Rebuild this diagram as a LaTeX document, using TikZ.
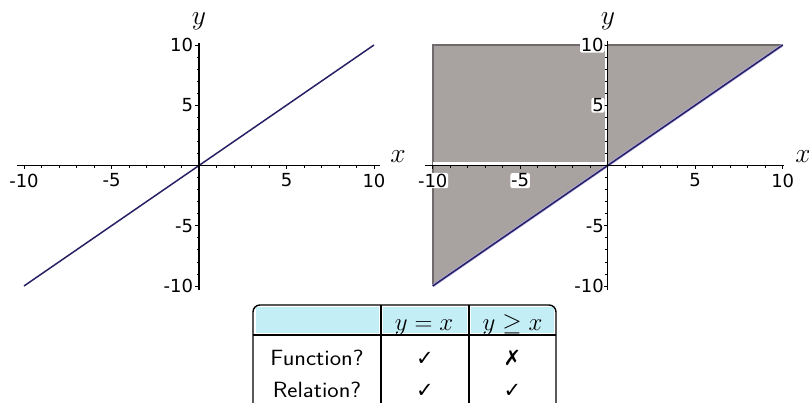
\documentclass[tikz,border=0pt]{standalone}
\usepackage{fontspec}
\usepackage{graphicx}
\newfontfamily\dejavu{DejaVu Sans}
\definecolor{greyfill}{RGB}{168,163,161}
\definecolor{greyedge}{RGB}{112,106,108}
\definecolor{navy}{RGB}{38,32,100}
\definecolor{lavender}{RGB}{185,178,232}
\definecolor{hdrcyan}{RGB}{196,238,246}
\newcommand{\bigmath}[1]{\scalebox{1.33}{$#1$}}
\newcommand{\hdrmath}[1]{\scalebox{1.2}{$#1$}}
\begin{document}
\begin{tikzpicture}[x=1pt,y=-1pt,
  ticklab/.style={font=\dejavu\fontsize{18}{18}\selectfont, inner sep=0.8pt},
  halolab/.style={ticklab, fill=white, rounded corners=2pt},
  axlab/.style={font=\fontsize{20}{20}\selectfont, inner sep=0pt},
  axisline/.style={line width=1.3pt, black},
  tickline/.style={line width=0.7pt, black},
  curve/.style={navy, line width=1.5pt},
  tabtext/.style={font=\sffamily\fontsize{21}{21}\selectfont, inner sep=0pt},
  tabmath/.style={font=\fontsize{20}{20}\selectfont, inner sep=0pt},
  checkmk/.style={font=\dejavu\bfseries\fontsize{21}{21}\selectfont, inner sep=0pt},
  tabline/.style={line width=1.4pt, black}]
\useasboundingbox (0,0) rectangle (809,403);
\clip (0,0) rectangle (809,403);

% ---------- left plot ----------
\begin{scope}[shift={(199,165.5)}, x=17.5pt, y=12.05pt]
  \draw[curve] (-10,-10) -- (10,10);
  \draw[axisline] (-10.4,0) -- (10.35,0);
  \draw[axisline] (0,-10.3) -- (0,10.2);
  \foreach \i in {-10,...,10} {
    \draw[tickline] (\i,0) -- ++(0pt,-2.5pt);
    \draw[tickline] (0,\i) -- ++(-2.5pt,0pt);
  }
  \foreach \i in {-10,-5,5,10} {
    \draw[tickline] (\i,0) -- ++(0pt,-4pt);
    \draw[tickline] (0,\i) -- ++(-4pt,0pt);
  }
  \node[ticklab] (lxa) at (-10,-1.25) {-10};
  \node[ticklab] (lxb) at (-5,-1.25) {-5};
  \node[ticklab] (lxc) at (5,-1.25) {5};
  \node[ticklab] (lxd) at (10,-1.25) {10};
  \node[ticklab, anchor=east] (lya) at ([xshift=-5pt]0,10) {10};
  \node[ticklab, anchor=east] (lyb) at ([xshift=-5pt]0,5) {5};
  \node[ticklab, anchor=east] (lyc) at ([xshift=-5pt]0,-5) {-5};
  \node[ticklab, anchor=east] (lyd) at ([xshift=-5pt]0,-10) {-10};
\end{scope}
\node[axlab] (lx) at (398,157) {\bigmath{x}};
\node[axlab] (ly) at (199,21) {\bigmath{y}};

% ---------- right plot ----------
\begin{scope}[shift={(607.7,165.5)}, x=17.5pt, y=12.05pt]
  \fill[greyfill] (-10,10) -- (10,10) -- (-10,-10) -- cycle;
  \draw[greyedge, line width=1.8pt] (10,10) -- (-10,10) -- (-10,-10);
  \fill[white] ([xshift=-3.2pt]0,0) rectangle ([xshift=-0.3pt]0,10.1);
  \fill[white] ([yshift=0.3pt]-10,0) rectangle ([yshift=3.2pt]0,0);
  \draw[lavender, line width=2.8pt] (-10,-10) -- (10,10);
  \draw[curve] (-10,-10) -- (10,10);
  \draw[axisline] (-10.45,0) -- (10.05,0);
  \draw[axisline] (0,-10.3) -- (0,10.3);
  \foreach \i in {-10,...,10} {
    \draw[tickline] (\i,0) -- ++(0pt,-2.5pt);
    \draw[tickline] (0,\i) -- ++(-2.5pt,0pt);
  }
  \foreach \i in {-10,-5,5,10} {
    \draw[tickline] (\i,0) -- ++(0pt,-4pt);
    \draw[tickline] (0,\i) -- ++(-4pt,0pt);
  }
  \node[halolab] (rxa) at (-10,-1.25) {-10};
  \node[halolab] (rxb) at (-5,-1.25) {-5};
  \node[ticklab] (rxc) at (5,-1.25) {5};
  \node[ticklab] (rxd) at (10,-1.25) {10};
  \node[halolab, anchor=east] (rya) at ([xshift=-3pt]0,10) {10};
  \node[halolab, anchor=east] (ryb) at ([xshift=-3pt]0,5) {5};
  \node[ticklab, anchor=east] (ryc) at ([xshift=-3pt]0,-5) {-5};
  \node[ticklab, anchor=east] (ryd) at ([xshift=-3pt]0,-10) {-10};
\end{scope}
\node[axlab] (rx) at (803,157) {\bigmath{x}};
\node[axlab] (ry) at (608,21) {\bigmath{y}};

% ---------- table ----------
\fill[hdrcyan] (255.5,307.5) rectangle (378.8,333.2);
\fill[hdrcyan] (383.2,307.5) rectangle (466.8,333.2);
\fill[hdrcyan] (471.2,307.5) rectangle (553.5,333.2);
\draw[tabline, rounded corners=7pt] (253,305) rectangle (556,425);
\draw[tabline] (381,305) -- (381,425);
\draw[tabline] (469,305) -- (469,425);
\draw[tabline] (253,335) -- (556,335);
\node[tabmath, anchor=base] (h1) at (424,331) {\hdrmath{y=x}};
\node[tabmath, anchor=base] (h2) at (512.5,331) {\hdrmath{y\geq x}};
\node[tabtext, anchor=base] (r1) at (317,365.5) {\scalebox{1.15}[1.05]{Function?}};
\node[tabtext, anchor=base] (r2) at (317,397.5) {\scalebox{1.15}[1.05]{Relation?}};
\node[checkmk, anchor=base] (c11) at (425,366) {✓};
\node[checkmk, anchor=base] (c12) at (512.5,366) {✗};
\node[checkmk, anchor=base] (c21) at (425,398) {✓};
\node[checkmk, anchor=base] (c22) at (512.5,398) {✓};
\end{tikzpicture}
\end{document}
